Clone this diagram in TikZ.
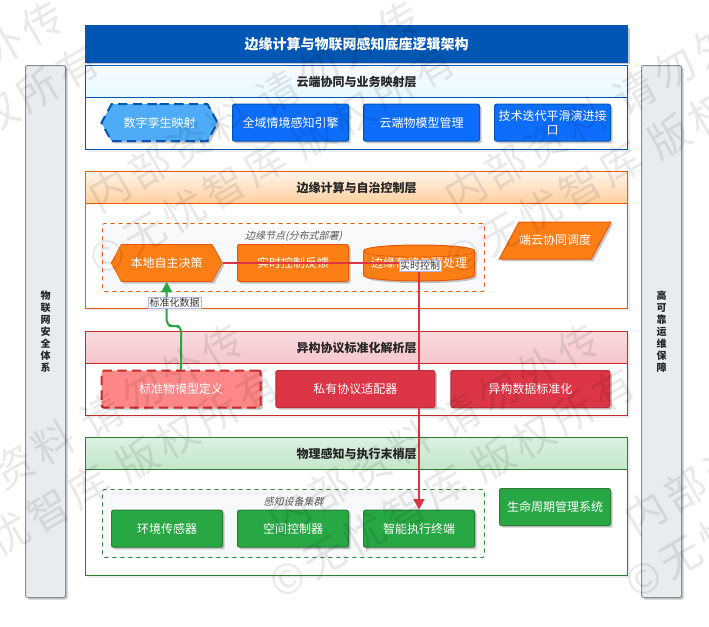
\documentclass[tikz,border=0pt]{standalone}
\usepackage{fontspec}
\setmainfont{Noto Sans CJK SC}
\newfontfamily\slantfont[FakeSlant=0.25]{Noto Sans CJK SC}
\newfontfamily\markfont[LetterSpace=12]{Noto Sans CJK SC}
\usetikzlibrary{arrows.meta,shadows,shapes.geometric,shapes.symbols}
\definecolor{blueline}{HTML}{0056B3}
\definecolor{bluenode}{HTML}{0D6EFD}
\definecolor{bluesoft}{HTML}{4DABF7}
\definecolor{orangeline}{HTML}{E8590C}
\definecolor{orangenode}{HTML}{FD7E14}
\definecolor{redline}{HTML}{C92A2A}
\definecolor{rednode}{HTML}{DC3545}
\definecolor{redsoft}{HTML}{FF8787}
\definecolor{greenline}{HTML}{2E7D32}
\definecolor{greennode}{HTML}{28A745}
\definecolor{panelfill}{HTML}{F8F9FA}
\definecolor{barfill}{HTML}{E9ECEF}
\definecolor{barline}{HTML}{868E96}
\tikzset{
  softshadow/.style={drop shadow={shadow xshift=1.6pt,shadow yshift=-1.6pt,opacity=.22,fill=black}},
  bodybox/.style={draw,fill=white,line width=.75pt,minimum width=407pt,inner sep=0pt,drop shadow={shadow xshift=1.6pt,shadow yshift=-1.6pt,opacity=.07,fill=black}},
  headbox/.style={draw,line width=.75pt,minimum width=407pt,minimum height=24pt,font=\bfseries\fontsize{9}{11}\selectfont,text=black!85,inner sep=0pt},
  sidebar/.style={draw=barline,fill=barfill,rounded corners=1.5pt,line width=.75pt,minimum width=30pt,minimum height=399pt,align=center,font=\bfseries\fontsize{7.5}{9}\selectfont,text=black!85,softshadow},
  groupbox/.style={draw,dashed,fill=panelfill,rounded corners=1.5pt,line width=.6pt,minimum width=286.5pt,minimum height=51pt,inner sep=0pt},
  grouptag/.style={font=\slantfont\fontsize{7.5}{9}\selectfont,text=black!65},
  unitbox/.style={draw,rounded corners=1.5pt,line width=.75pt,minimum width=83.25pt,minimum height=27.75pt,align=center,inner sep=0pt,text=white,font=\fontsize{9}{10.5}\selectfont,softshadow},
  hexbox/.style={draw,signal,signal to=west and east,signal pointer angle=123,minimum width=83.25pt,minimum height=27.75pt,inner sep=0pt,text=white,font=\fontsize{9}{10.5}\selectfont,softshadow},
  flowtag/.style={draw=black!30!blue!30,fill=white,line width=.4pt,inner sep=.8pt,font=\fontsize{7.5}{9}\selectfont,text=black!80},
  redflow/.style={draw=rednode,line width=1.5pt,-{Triangle[length=8pt,width=8pt]}},
  greenflow/.style={draw=greennode,line width=1.5pt,rounded corners=4pt,-{Triangle[length=8pt,width=8pt]}},
  watermark/.style={font=\markfont\fontsize{31}{40}\selectfont,text=black,text opacity=.085,rotate=30},
}
\begin{document}
\begin{tikzpicture}[x=0.75pt,y=0.75pt,yscale=-1,xscale=1]
\useasboundingbox (0,0) rectangle (709,626);
%Shape: side bars
\node (safebar) [sidebar] at (45.5,331.5) {物\\联\\网\\安\\全\\体\\系};
\node (opsbar) [sidebar] at (661.5,331.5) {高\\可\\靠\\运\\维\\保\\障};
%Shape: title
\node (title) [draw=blueline,fill=blueline,line width=.75pt,minimum width=407pt,minimum height=27.4pt,text=white,font=\bfseries\fontsize{10.5}{12}\selectfont,softshadow] at (356.5,43.75) {边缘计算与物联网感知底座逻辑架构};
%Shape: cloud layer
\node (cloudbody) [bodybox,draw=blueline,minimum height=63pt] at (356.5,107.5) {};
\node (cloudhead) [headbox,draw=blueline,top color=blue!2!white,bottom color=blue!18!cyan!10!white] at (356.5,81.5) {云端协同与业务映射层};
\node (twin) [hexbox,draw=blueline,fill=bluesoft,line width=1.5pt,dash pattern=on 7pt off 4pt,minimum width=87pt] at (159.5,122.7) {数字孪生映射};
\node (engine) [unitbox,draw=blueline,fill=bluenode,minimum width=87pt] at (290.5,122.7) {全域情境感知引擎};
\node (things) [unitbox,draw=blueline,fill=bluenode,minimum width=87pt] at (421.5,122.7) {云端物模型管理};
\node (iterate) [unitbox,draw=blueline,fill=bluenode,minimum width=87pt] at (552.5,122.7) {技术迭代平滑演进接\\口};
%Shape: edge layer
\node (edgebody) [bodybox,draw=orangeline,minimum height=103.1pt] at (356.5,240.25) {};
\node (edgehead) [headbox,draw=orangeline,top color=orange!8!white,bottom color=orange!38!white] at (356.5,187.5) {边缘计算与自治控制层};
\node (edgegroup) [groupbox,draw=orangeline] at (293.5,257.5) {};
\node (edgetag) [grouptag] at (293.5,236) {边缘节点(分布式部署)};
\node (decide) [hexbox,draw=orangeline,fill=orangenode] at (166.7,263) {本地自主决策};
\node (feedback) [unitbox,draw=orangeline,fill=orangenode] at (293,263) {实时控制反馈};
%Shape: Can
\draw [orangeline,fill=orangenode,line width=.75pt,softshadow] (363.5,251) .. controls (363.5,243) and (474.5,243) .. (474.5,251) -- (474.5,275) .. controls (474.5,283) and (363.5,283) .. (363.5,275) -- cycle;
\draw [orangeline,line width=.5pt] (363.5,251) .. controls (363.5,259) and (474.5,259) .. (474.5,251);
\node (store) [text=white,font=\fontsize{9}{10.5}\selectfont] at (419,263) {边缘存储与预处理};
\node (sync) [draw=orangeline,fill=orangenode,trapezium,trapezium left angle=62,trapezium right angle=118,trapezium stretches body=true,minimum width=83.75pt,text height=7.5pt,text depth=1.5pt,inner xsep=0pt,inner ysep=9.37pt,line width=.75pt,text=white,font=\fontsize{9}{10.5}\selectfont,softshadow] at (555,240.7) {端云协同调度};
%Shape: protocol layer
\node (protobody) [bodybox,draw=redline,minimum height=63pt] at (356.5,373.5) {};
\node (protohead) [headbox,draw=redline,top color=rednode!18!white,bottom color=rednode!28!white] at (356.5,347.5) {异构协议标准化解析层};
\node (model) [unitbox,draw=redline,fill=redsoft,line width=1.5pt,dash pattern=on 7pt off 4pt,minimum width=119.25pt] at (181.2,389) {标准物模型定义};
\node (adapter) [unitbox,draw=rednode!85!black,fill=rednode,minimum width=119.25pt] at (355.3,389) {私有协议适配器};
\node (normal) [unitbox,draw=rednode!85!black,fill=rednode,minimum width=119.25pt] at (530.3,389) {异构数据标准化};
%Shape: physical layer
\node (physbody) [bodybox,draw=greenline,minimum height=103.5pt] at (356.5,506.5) {};
\node (physhead) [headbox,draw=greenline,top color=greennode!16!white,bottom color=greennode!28!white] at (356.5,453.5) {物理感知与执行末梢层};
\node (physgroup) [groupbox,draw=greenline] at (293.5,523.5) {};
\node (phystag) [grouptag] at (293.5,502) {感知设备集群};
\node (sensor) [unitbox,draw=greenline,fill=greennode] at (167,528.7) {环境传感器};
\node (spatial) [unitbox,draw=greenline,fill=greennode] at (293,528.7) {空间控制器};
\node (actuator) [unitbox,draw=greenline,fill=greennode] at (419,528.7) {智能执行终端};
\node (cycle) [unitbox,draw=greenline,fill=greennode] at (555,507) {生命周期管理系统};
%Straight Lines: connectors
\coordinate (jog) at (174,326);
\draw [greenflow] (model.north) |- (jog) -| (decide.south);
\draw [redflow] (decide.east) -| (actuator.north);
% Text Node
\node (ctrltag) [flowtag] at (420,266) {实时控制};
\node (datatag) [flowtag] at (174.7,303) {标准化数据};
%Watermark
\begin{scope}
\clip (0,0) rectangle (709,626);
\foreach \wx/\wy [count=\wi] in {-102/106,254/106,610/106,78/429,434/429,790/429}{
  \node (marka\wi) [watermark] at (\wx,\wy) {内部资料 请勿外传};
  \node (markb\wi) [watermark] at (\wx+18,\wy+54) {©无忧智库 版权所有};
}
\end{scope}
\end{tikzpicture}
\end{document}
